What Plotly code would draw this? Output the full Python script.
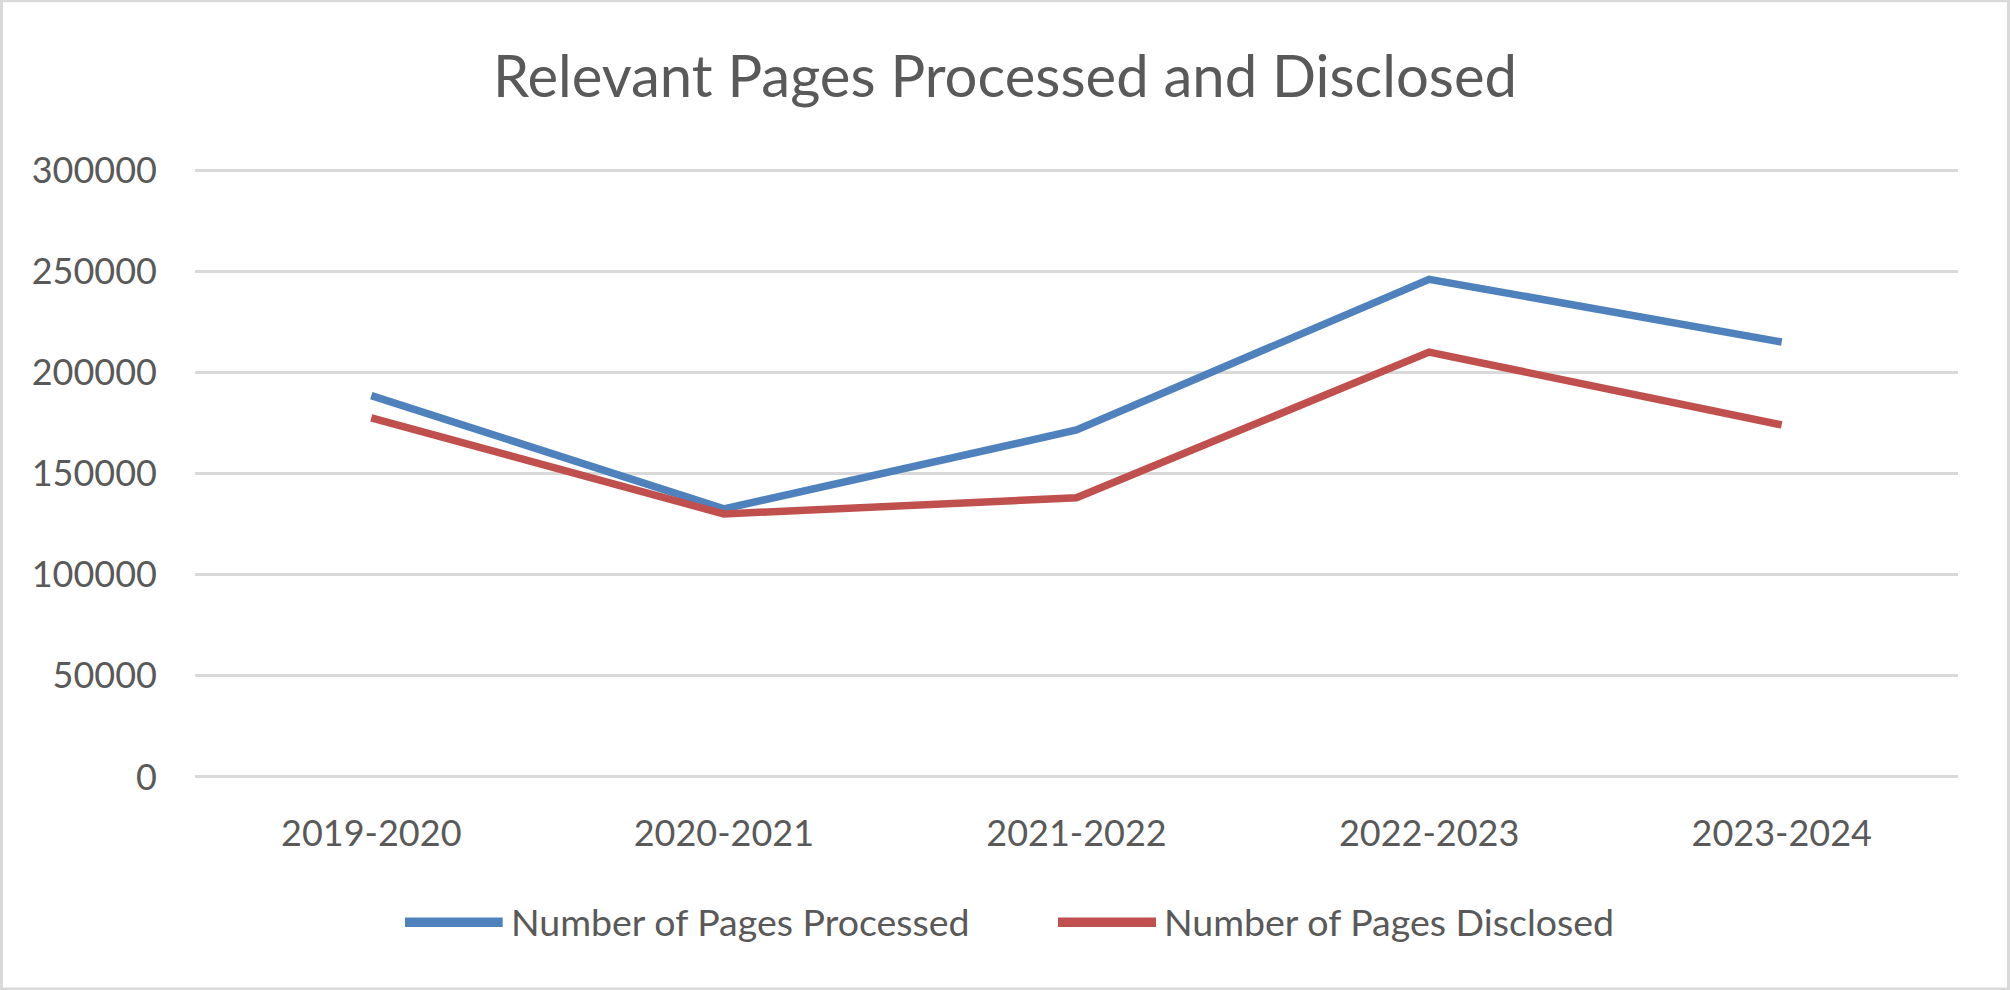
import plotly.graph_objects as go

# ---- data ----
categories = ["2019-2020", "2020-2021", "2021-2022", "2022-2023", "2023-2024"]
pages_processed = [188500, 132500, 171500, 246000, 215000]
pages_disclosed = [177500, 130000, 138000, 210000, 174000]
series_names = ["Number of Pages Processed", "Number of Pages Disclosed"]
y_ticks = [0, 50000, 100000, 150000, 200000, 250000, 300000]
title_text = "Relevant Pages Processed and Disclosed"

BLUE = "#4F81BD"
RED = "#C0504D"
TEXT = "#595959"
GRID = "#D9D9D9"
FONT = "Lato"

W, H = 2010, 990
PAD = 1000  # small range padding so the edge gridlines are drawn
Y0_PX, Y300_PX = 776.8, 170.5
px_per_unit = (Y0_PX - Y300_PX) / 300000
ML, MR = 195, 52
MT = Y300_PX - PAD * px_per_unit
MB = H - (Y0_PX + PAD * px_per_unit)
PW = W - ML - MR
PH = H - MT - MB

fig = go.Figure()
fig.add_trace(go.Scatter(x=categories, y=pages_processed, mode="lines",
                         name=series_names[0],
                         line=dict(color=BLUE, width=7.5), showlegend=False))
fig.add_trace(go.Scatter(x=categories, y=pages_disclosed, mode="lines",
                         name=series_names[1],
                         line=dict(color=RED, width=7.5), showlegend=False))

def px_to_paper_x(px):
    return (px - ML) / PW

def py_to_paper_y(py):
    return (H - MB - py) / PH

# custom legend (long line samples like the original)
legend_items = [
    (series_names[0], BLUE, 405, 502.7, 509),
    (series_names[1], RED, 1058, 1156, 1162),
]
shapes = []
annotations = []
ly = py_to_paper_y(922)
for name, col, x0, x1, tx in legend_items:
    shapes.append(dict(type="line", xref="paper", yref="paper",
                       x0=px_to_paper_x(x0), x1=px_to_paper_x(x1), y0=ly, y1=ly,
                       line=dict(color=col, width=9.5)))
    annotations.append(dict(text=name, xref="paper", yref="paper",
                            x=px_to_paper_x(tx), y=py_to_paper_y(921),
                            xanchor="left", yanchor="middle", showarrow=False,
                            font=dict(family=FONT, size=37.5, color=TEXT)))

# outer border
shapes.append(dict(type="rect", xref="paper", yref="paper",
                   x0=px_to_paper_x(1.5), x1=px_to_paper_x(W - 1.5),
                   y0=py_to_paper_y(H - 1.5), y1=py_to_paper_y(1.5),
                   line=dict(color=GRID, width=3), layer="below"))

fig.update_layout(
    width=W, height=H,
    margin=dict(l=ML, r=MR, t=MT, b=MB),
    paper_bgcolor="white", plot_bgcolor="white",
    title=dict(text=title_text, x=0.5, xref="container", xanchor="center",
               y=1 - 96.7 / H, yref="container", yanchor="bottom",
               font=dict(family=FONT, size=58, color=TEXT)),
    font=dict(family=FONT, size=36, color=TEXT),
    xaxis=dict(type="category", range=[-0.5, 4.5], showgrid=False,
               showline=False, zeroline=False, ticks="",
               tickfont=dict(family=FONT, size=36, color=TEXT),
               ticklabelstandoff=30),
    yaxis=dict(range=[-PAD, 300000 + PAD], tickvals=y_ticks,
               ticktext=[str(v) for v in y_ticks],
               showgrid=True, gridcolor=GRID, gridwidth=2.5,
               zeroline=False, showline=False, ticks="",
               tickfont=dict(family=FONT, size=36, color=TEXT),
               ticklabelstandoff=37),
    shapes=shapes,
    annotations=annotations,
    showlegend=False,
)

fig.write_html("out.html", config={"displayModeBar": False},
               post_script="document.body.style.margin='0';document.body.style.padding='0';")
